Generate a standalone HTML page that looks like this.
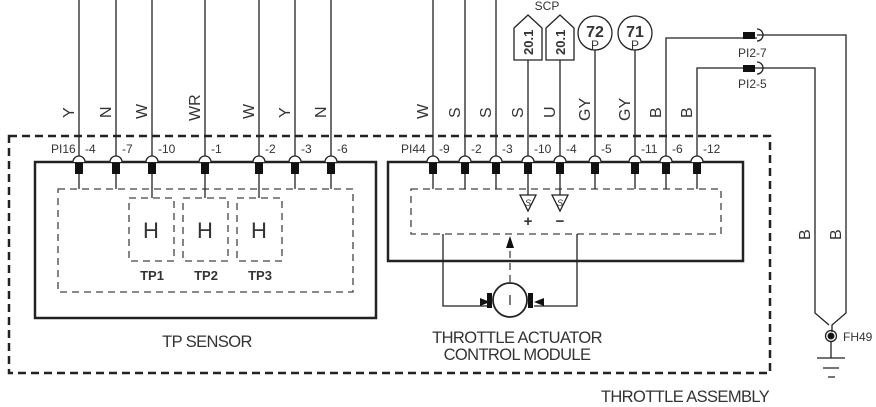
<!DOCTYPE html>
<html><head><meta charset="utf-8"><style>
html,body{margin:0;padding:0;background:#fff;width:876px;height:407px;overflow:hidden}
svg{display:block}
text{font-family:"Liberation Sans",sans-serif;fill:#333}
</style></head><body>
<svg width="876" height="407" viewBox="0 0 876 407" xmlns="http://www.w3.org/2000/svg">
<g stroke="#222" fill="none">
<rect x="9" y="136" width="761" height="237" stroke-width="2.5" stroke-dasharray="8,5"/>
<rect x="35" y="162" width="341" height="156" stroke-width="2.5"/>
<rect x="388" y="162" width="355" height="99" stroke-width="2.5"/>
<g stroke="#444" stroke-width="1.3" stroke-dasharray="7,5">
<rect x="58" y="189" width="295" height="103"/>
<rect x="129" y="198" width="45" height="63"/>
<rect x="183" y="198" width="45" height="63"/>
<rect x="237" y="198" width="45" height="63"/>
<rect x="411" y="189" width="310" height="45"/>
<line x1="510" y1="282" x2="510" y2="248"/>
</g>
<g stroke-width="1.3">
<path d="M79 0V189M116 0V189M152 0V198M205 0V198M259 0V198M295 0V189M331 0V189"/>
<path d="M433 0V189M465 0V189M496 0V189M528 60V195M560 60V195M595 50V189M635 50V189M666 189V38H757M697 189V68H757"/>
<path d="M757 35H846V313L832 325V332M757 68H815V313L829 325"/>
<path d="M831 341V358M817 358H845M823 368H839M828 377H835"/>
<path d="M443 234V306H487M577 234V306H534"/>
</g>
<circle cx="831" cy="336" r="5.5" stroke-width="1.3"/>
<circle cx="831" cy="336" r="3" fill="#111"/>
<circle cx="510" cy="300" r="17" stroke-width="1.8" fill="#fff"/>
<line x1="510" y1="295" x2="510" y2="305" stroke-width="1.2"/>
</g>
<g fill="#111">
<rect x="487" y="293" width="5" height="15"/><rect x="528" y="293" width="5" height="15"/>
<path d="M478 301L488 305L478 309Z" transform="translate(2,-3)"/>
<path d="M544 298L534 302L544 306Z"/>
<path d="M506 248L510 236L514 248Z"/>
<path d="M743 32h12v7h-12zM743 65h12v7h-12z"/>
</g>
<g fill="none" stroke="#222" stroke-width="1.3">
<path d="M757 29a6 6 0 0 1 0 12M757 62a6 6 0 0 1 0 12"/>
</g>
<g stroke="#222" stroke-width="1.3" fill="#fff">
<path d="M73 162a6 6 0 0 1 12 0M110 162a6 6 0 0 1 12 0M146 162a6 6 0 0 1 12 0M199 162a6 6 0 0 1 12 0M253 162a6 6 0 0 1 12 0M289 162a6 6 0 0 1 12 0M325 162a6 6 0 0 1 12 0"/>
<path d="M427 162a6 6 0 0 1 12 0M459 162a6 6 0 0 1 12 0M490 162a6 6 0 0 1 12 0M522 162a6 6 0 0 1 12 0M554 162a6 6 0 0 1 12 0M589 162a6 6 0 0 1 12 0M629 162a6 6 0 0 1 12 0M660 162a6 6 0 0 1 12 0M691 162a6 6 0 0 1 12 0"/>
</g>
<g fill="#111">
<rect x="75" y="163" width="8" height="11"/><rect x="112" y="163" width="8" height="11"/><rect x="148" y="163" width="8" height="11"/><rect x="201" y="163" width="8" height="11"/><rect x="255" y="163" width="8" height="11"/><rect x="291" y="163" width="8" height="11"/><rect x="327" y="163" width="8" height="11"/>
<rect x="429" y="163" width="8" height="11"/><rect x="461" y="163" width="8" height="11"/><rect x="492" y="163" width="8" height="11"/><rect x="524" y="163" width="8" height="11"/><rect x="556" y="163" width="8" height="11"/><rect x="591" y="163" width="8" height="11"/><rect x="631" y="163" width="8" height="11"/><rect x="662" y="163" width="8" height="11"/><rect x="693" y="163" width="8" height="11"/>
</g>
<g stroke="#222" stroke-width="1.3" fill="#fff">
<path d="M514 60V28L528 15L542 28V60Z"/>
<path d="M546 60V28L560 15L574 28V60Z"/>
<circle cx="595" cy="33" r="17"/>
<circle cx="635" cy="33" r="17"/>
<path d="M520 195H536L528 211Z"/><path d="M552 195H568L560 211Z"/>
</g>
<g font-size="13" font-weight="bold">
<text transform="translate(533,55) rotate(-90)" fill="#222">20.1</text>
<text transform="translate(565,55) rotate(-90)" fill="#222">20.1</text>
<text x="595" y="37" text-anchor="middle" font-size="16" fill="#222">72</text>
<text x="635" y="37" text-anchor="middle" font-size="16" fill="#222">71</text>
</g>
<g font-size="12">
<text x="595" y="49" text-anchor="middle">P</text>
<text x="635" y="49" text-anchor="middle">P</text>
<text x="547" y="10" text-anchor="middle">SCP</text>
<text x="528" y="206" text-anchor="middle" font-size="9" font-style="italic">S</text>
<text x="560" y="206" text-anchor="middle" font-size="9" font-style="italic">S</text>
</g>
<g font-size="15" font-weight="bold"><text x="528" y="226" text-anchor="middle" fill="#111">+</text><text x="560" y="226" text-anchor="middle" fill="#111">−</text></g>
<g font-size="16">
<text transform="translate(74,118) rotate(-90)">Y</text>
<text transform="translate(111,118) rotate(-90)">N</text>
<text transform="translate(147,119) rotate(-90)">W</text>
<text transform="translate(200,121) rotate(-90)">WR</text>
<text transform="translate(254,119) rotate(-90)">W</text>
<text transform="translate(290,118) rotate(-90)">Y</text>
<text transform="translate(326,118) rotate(-90)">N</text>
<text transform="translate(428,119) rotate(-90)">W</text>
<text transform="translate(460,118) rotate(-90)">S</text>
<text transform="translate(491,118) rotate(-90)">S</text>
<text transform="translate(523,118) rotate(-90)">S</text>
<text transform="translate(555,118) rotate(-90)">U</text>
<text transform="translate(590,121) rotate(-90)">GY</text>
<text transform="translate(630,121) rotate(-90)">GY</text>
<text transform="translate(661,118) rotate(-90)">B</text>
<text transform="translate(692,118) rotate(-90)">B</text>
<text transform="translate(810,240) rotate(-90)">B</text>
<text transform="translate(841,240) rotate(-90)">B</text>
</g>
<g font-size="12" fill="#555">
<text x="51" y="153">PI16</text><text x="85" y="153">-4</text><text x="122" y="153">-7</text><text x="158" y="153">-10</text><text x="211" y="153">-1</text><text x="265" y="153">-2</text><text x="301" y="153">-3</text><text x="337" y="153">-6</text>
<text x="401" y="153">PI44</text><text x="439" y="153">-9</text><text x="471" y="153">-2</text><text x="502" y="153">-3</text><text x="534" y="153">-10</text><text x="566" y="153">-4</text><text x="601" y="153">-5</text><text x="641" y="153">-11</text><text x="672" y="153">-6</text><text x="703" y="153">-12</text>
<text x="738" y="57">PI2-7</text><text x="738" y="88">PI2-5</text><text x="843" y="341">FH49</text>
</g>
<g font-size="22" text-anchor="middle"><text x="151" y="238" fill="#555">H</text><text x="205" y="238" fill="#555">H</text><text x="259" y="238" fill="#555">H</text></g>
<g font-size="13" font-weight="bold" text-anchor="middle"><text x="152" y="280" fill="#444">TP1</text><text x="206" y="280" fill="#444">TP2</text><text x="260" y="280" fill="#444">TP3</text></g>
<g font-size="16.5" text-anchor="middle" letter-spacing="-0.6">
<text x="207" y="347" fill="#222">TP SENSOR</text>
<text x="517" y="343" fill="#222">THROTTLE ACTUATOR</text>
<text x="517" y="360" fill="#222">CONTROL MODULE</text>
<text x="685" y="402" fill="#222">THROTTLE ASSEMBLY</text>
</g>
</svg>
</body></html>
